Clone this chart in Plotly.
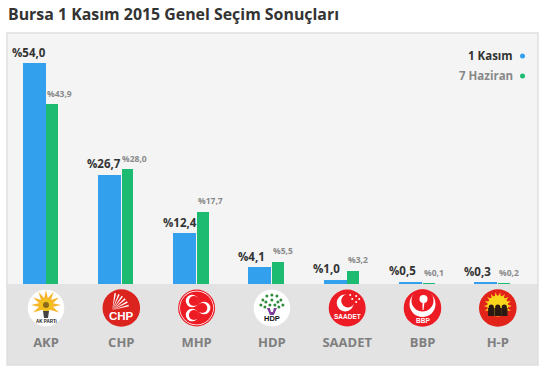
import math
import plotly.graph_objects as go

title = "Bursa 1 Kasım 2015 Genel Seçim Sonuçları"
parties = ["AKP", "CHP", "MHP", "HDP", "SAADET", "BBP", "H-P"]
kasim = [54.0, 26.7, 12.4, 4.1, 1.0, 0.5, 0.3]
haziran = [43.9, 28.0, 17.7, 5.5, 3.2, 0.1, 0.2]
kasim_labels = ["%54,0", "%26,7", "%12,4", "%4,1", "%1,0", "%0,5", "%0,3"]
haziran_labels = ["%43,9", "%28,0", "%17,7", "%5,5", "%3,2", "%0,1", "%0,2"]
series_names = ["1 Kasım", "7 Haziran"]

W, H = 547, 371
L, R, T, B = 7, 538, 33, 284
BOTTOM = 365
CX0, STEP = 46.0, 75.3
PX_PER_UNIT = 4.09
BLUE, GREEN = "#33a0ee", "#1dbb72"
FONT = "Open Sans"
LOGO_Y = 308


def fx(px):
    return (px - L) / (R - L)


def fy(py):
    return (B - py) / (B - T)


fig = go.Figure()
fig.add_bar(x=list(range(7)), y=kasim, name=series_names[0], marker_color=BLUE,
            marker_line_width=0, width=23 / STEP, offset=-23.5 / STEP, showlegend=False)
fig.add_bar(x=list(range(7)), y=haziran, name=series_names[1], marker_color=GREEN,
            marker_line_width=0, width=11.8 / STEP, offset=0.2 / STEP, showlegend=False)

shapes = [
    dict(type="rect", xref="paper", yref="paper", x0=0, x1=1, y0=fy(BOTTOM), y1=0,
         fillcolor="#e3e3e3", line_width=0, layer="below"),
    dict(type="rect", xref="paper", yref="paper", x0=0, x1=1, y0=fy(BOTTOM), y1=1,
         fillcolor="rgba(0,0,0,0)", line=dict(color="#e0e0e0", width=1.5), layer="above"),
]
annotations = [
    dict(text="<b>%s</b>" % title, xref="paper", yref="paper", x=fx(6), y=fy(14),
         xanchor="left", yanchor="middle", showarrow=False,
         font=dict(family=FONT, size=15.9, color="#333333")),
]


def circle(i, dx, dy, r, color):
    shapes.append(dict(type="circle", xref="x", yref="paper", xsizemode="pixel", ysizemode="pixel",
                       xanchor=i, yanchor=fy(LOGO_Y), x0=dx - r, x1=dx + r, y0=dy - r, y1=dy + r,
                       fillcolor=color, line_width=0, layer="above"))


def poly(i, pts, color):
    path = "M" + " L".join("%.2f,%.2f" % p for p in pts) + " Z"
    shapes.append(dict(type="path", xref="x", yref="paper", xsizemode="pixel", ysizemode="pixel",
                       xanchor=i, yanchor=fy(LOGO_Y), path=path,
                       fillcolor=color, line_width=0, layer="above"))


def logo_text(i, text, dy, size, color):
    annotations.append(dict(text="<b>%s</b>" % text, x=i, xref="x", yref="paper", y=fy(LOGO_Y + dy),
                            showarrow=False, xanchor="center", yanchor="middle",
                            font=dict(family="Liberation Sans", size=size, color=color)))


def crescent(i, dx, dy, r, color, bg, ox, oy, k=0.8):
    circle(i, dx, dy, r, color)
    circle(i, dx + ox, dy + oy, r * k, bg)


def ray(i, angle, r0, r1, w, color, cx=0, cy=0):
    a = math.radians(angle)
    ux, uy = math.cos(a), math.sin(a)
    px, py = -uy * w / 2, ux * w / 2
    poly(i, [(cx + ux * r0 + px, cy + uy * r0 + py), (cx + ux * r1, cy + uy * r1),
             (cx + ux * r0 - px, cy + uy * r0 - py)], color)


# AKP
circle(0, 0, 0, 18.3, "#ffffff")
for ang in range(-30, 211, 30):
    ray(0, ang, 4, 15, 5, "#f6b52a", 0, 3)
circle(0, 0, 3, 6.5, "#f3c11e")
circle(0, 0, 3, 3, "#8a6a1a")
poly(0, [(-3, -3), (3, -3), (2, -10), (-2, -10)], "#444444")
logo_text(0, "AK PARTi", 13.5, 4.5, "#222222")
# CHP
circle(1, 0, 0, 18.8, "#dc241f")
for ang in (15, 28, 41, 54, 67, 80):
    ray(1, ang, 17, 0, 1.6, "#ffffff", -9, -2)
logo_text(1, "CHP", 8, 11.5, "#ffffff")
# MHP
circle(2, 0, 0, 18.5, "#ed1c24")
circle(2, 0, 0, 17.3, "#ffffff")
circle(2, 0, 0, 16.6, "#ed1c24")
crescent(2, -4.5, 7, 6.3, "#ffffff", "#ed1c24", 1.8, 0)
crescent(2, -4.5, -7, 6.3, "#ffffff", "#ed1c24", 1.8, 0)
crescent(2, 7.5, 0, 6.3, "#ffffff", "#ed1c24", -1.8, 0)
# HDP
circle(3, 0, 0, 18.3, "#ffffff")
for dx, dy in ((-9, 8), (-5, 12), (0, 13), (5, 12), (9, 8), (-11, 3), (-6, 6), (0, 8), (6, 6), (11, 3),
               (-7, 1), (-2, 3), (3, 3), (7, 1)):
    circle(3, dx, dy, 1.5, "#2e8b3c")
poly(3, [(-5, 0), (-2, 0), (-1, -4), (1, -4), (2, 0), (5, 0), (2, -7), (-2, -7)], "#7c3f98")
logo_text(3, "HDP", 11, 7.5, "#111111")
# SAADET
circle(4, 0, 0, 18.5, "#ed1c24")
crescent(4, -2, 5, 8.5, "#ffffff", "#ed1c24", 2.8, 2.2)
for dx, dy in ((5, 9), (9, 12), (3, 13), (9, 6), (12, 9)):
    circle(4, dx, dy, 1, "#ffffff")
logo_text(4, "SAADET", 9, 6.5, "#ffffff")
# BBP
circle(5, 0, 0, 18.8, "#ed1c24")
crescent(5, 0, 4, 13, "#ffffff", "#ed1c24", 0, 3.5, 0.85)
circle(5, 1, 9, 4, "#ffffff")
poly(5, [(0, 6), (2, 6), (1, -2), (0, -2)], "#ffffff")
logo_text(5, "BBP", 12, 6.5, "#ffffff")
# H-P
circle(6, 0, 0, 18.8, "#e2231a")
circle(6, 0, 2, 10.5, "#f9d61c")
for ang in range(-20, 201, 20):
    ray(6, ang, 9, 14, 3, "#f9d61c", 0, 2)
for dx in (-6.5, 0, 6.5):
    circle(6, dx, 1, 2.6, "#2a1a12")
    poly(6, [(dx - 3.2, 0), (dx + 3.2, 0), (dx + 3.2, -8), (dx - 3.2, -8)], "#2a1a12")

# value labels, from the data arrays
for i in range(7):
    annotations.append(dict(text="<b>%s</b>" % kasim_labels[i], x=i, y=kasim[i], xref="x", yref="y",
                            xanchor="left", yanchor="middle", xshift=-36, yshift=11, showarrow=False,
                            font=dict(family=FONT, size=11.5, color="#333333")))
    annotations.append(dict(text="<b>%s</b>" % haziran_labels[i], x=i, y=haziran[i], xref="x", yref="y",
                            xanchor="left", yanchor="middle", xshift=-1, yshift=11, showarrow=False,
                            font=dict(family=FONT, size=8.5, color="#8a8a8a")))

# legend
for name, py, col, tc in ((series_names[0], 55, BLUE, "#333333"), (series_names[1], 75, GREEN, "#888888")):
    annotations.append(dict(text="<b>%s</b>" % name, xref="paper", yref="paper", x=fx(515), y=fy(py),
                            xanchor="right", yanchor="middle", showarrow=False,
                            font=dict(family=FONT, size=11.5, color=tc)))
    shapes.append(dict(type="circle", xref="paper", yref="paper", xsizemode="pixel", ysizemode="pixel",
                       xanchor=fx(522.5), yanchor=fy(py + 1), x0=-2.5, x1=2.5, y0=-2.5, y1=2.5,
                       fillcolor=col, line_width=0, layer="above"))

fig.update_layout(
    width=W, height=H, autosize=False,
    margin=dict(l=L, r=W - R, t=T, b=H - B),
    paper_bgcolor="#ffffff", plot_bgcolor="#f4f4f4",
    bargap=0, showlegend=False,
    shapes=shapes, annotations=annotations,
    xaxis=dict(range=[(L - CX0) / STEP, (R - CX0) / STEP], tickmode="array",
               tickvals=list(range(7)), ticktext=["<b>%s</b>" % p for p in parties],
               ticks="outside", ticklen=46, tickcolor="rgba(0,0,0,0)", showgrid=False,
               zeroline=False, showline=False, automargin=False,
               tickfont=dict(family=FONT, size=13, color="#7f7f7f")),
    yaxis=dict(range=[0, (B - T) / PX_PER_UNIT], showticklabels=False, ticks="",
               showgrid=False, zeroline=False, showline=False, automargin=False),
)
fig.write_html("out.html", config=dict(displayModeBar=False),
               post_script="document.body.style.margin='0';document.body.style.overflow='hidden';")
